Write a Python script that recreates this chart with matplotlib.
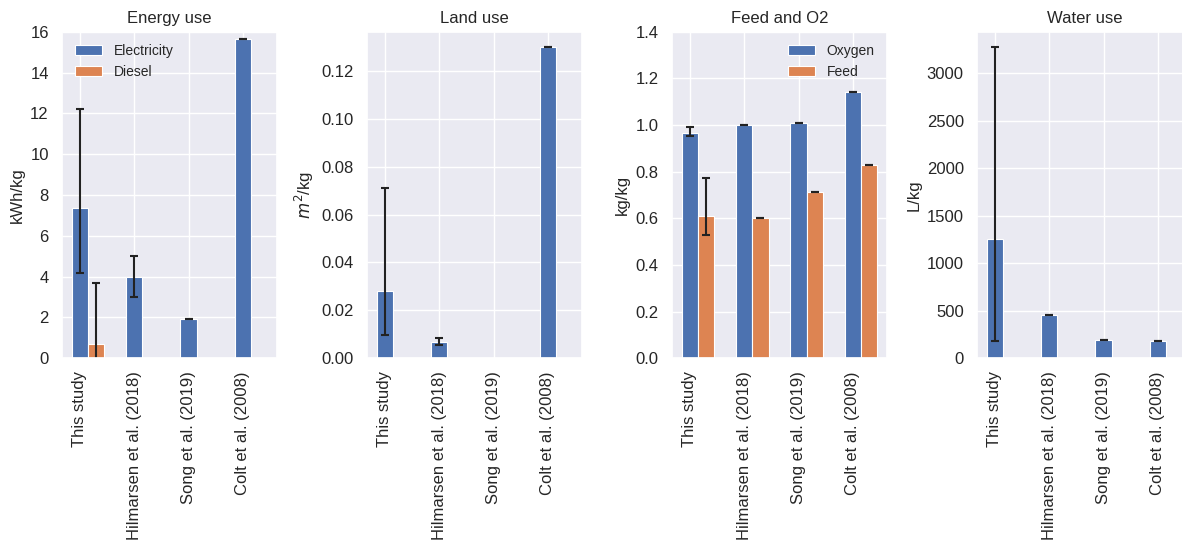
import matplotlib
matplotlib.use('Agg')

import matplotlib.pyplot as plt
import numpy as np
import seaborn as sns

sns.set_theme(style='darkgrid')
plt.rcParams['font.family'] = ['Liberation Sans', 'DejaVu Sans']

studies = ['This study', 'Hilmarsen et al. (2018)', 'Song et al. (2019)', 'Colt et al. (2008)']

# energy use (kWh/kg), errors given as (lower, upper)
electricity = [7.38, 4.0, 1.93, 15.65]
electricity_err = [[3.22, 1.0, 0.0, 0.0], [4.82, 1.0, 0.0, 0.0]]
diesel = [0.68, np.nan, np.nan, np.nan]
diesel_err = [[3.0, np.nan, np.nan, np.nan], [3.0, np.nan, np.nan, np.nan]]

# land use (m2/kg)
land = [0.028, 0.0069, np.nan, 0.1298]
land_err = [[0.0183, 0.0014, np.nan, 0.0], [0.0431, 0.0017, np.nan, 0.0]]

# oxygen and feed (kg/kg)
oxygen = [0.964, 1.0, 1.01, 1.14]
oxygen_err = [[0.011, 0.0, 0.0, 0.0], [0.029, 0.0, 0.0, 0.0]]
feed = [0.612, 0.6, 0.715, 0.83]
feed_err = [[0.084, 0.0, 0.0, 0.0], [0.159, 0.0, 0.0, 0.0]]

# water use (L/kg)
water = [1252, 460, 195, 183]
water_err = [[1065, 0, 0, 0], [2024, 0, 0, 0]]

blue = '#4C72B0'
orange = '#DD8452'
w = 0.3
x = np.arange(len(studies))
ekw = dict(ecolor='#222222', elinewidth=1.5, capsize=3, capthick=1.5)
bkw = dict(edgecolor='white', linewidth=0.8)

fig = plt.figure(figsize=(11.82, 5.46), dpi=100)
axes = []
for i in range(4):
    left = (62 + i * 305) / 1182
    axes.append(fig.add_axes([left, 1 - 358.3 / 546, 215 / 1182, (358.3 - 31.7) / 546]))

ax = axes[0]
ax.bar(x, electricity, w, yerr=electricity_err, color=blue, label='Electricity', error_kw=ekw, **bkw)
ax.bar(x + w, diesel, w, yerr=diesel_err, color=orange, label='Diesel', error_kw=ekw, **bkw)
ax.set_ylim(0, 16)
ax.set_ylabel('kWh/kg')
ax.set_title('Energy use')
ax.legend(loc='upper left', frameon=False, fontsize=10)

ax = axes[1]
ax.bar(x, land, w, yerr=land_err, color=blue, error_kw=ekw, **bkw)
ax.set_ylabel('$m^2$/kg')
ax.set_title('Land use')

ax = axes[2]
ax.bar(x, oxygen, w, yerr=oxygen_err, color=blue, label='Oxygen', error_kw=ekw, **bkw)
ax.bar(x + w, feed, w, yerr=feed_err, color=orange, label='Feed', error_kw=ekw, **bkw)
ax.set_ylim(0, 1.4)
ax.set_ylabel('kg/kg')
ax.set_title('Feed and O2')
ax.legend(loc='upper right', frameon=False, fontsize=10)

ax = axes[3]
ax.bar(x, water, w, yerr=water_err, color=blue, error_kw=ekw, **bkw)
ax.set_ylabel('L/kg')
ax.set_title('Water use')

for ax in axes:
    ax.set_xlim(-0.33, 3.63)
    ax.set_xticks(x)
    ax.set_xticklabels(studies, rotation=90)
    ax.tick_params(labelsize=12)
    ax.title.set_fontsize(12)
    ax.yaxis.label.set_fontsize(12)

plt.savefig('out.png', dpi=100)
